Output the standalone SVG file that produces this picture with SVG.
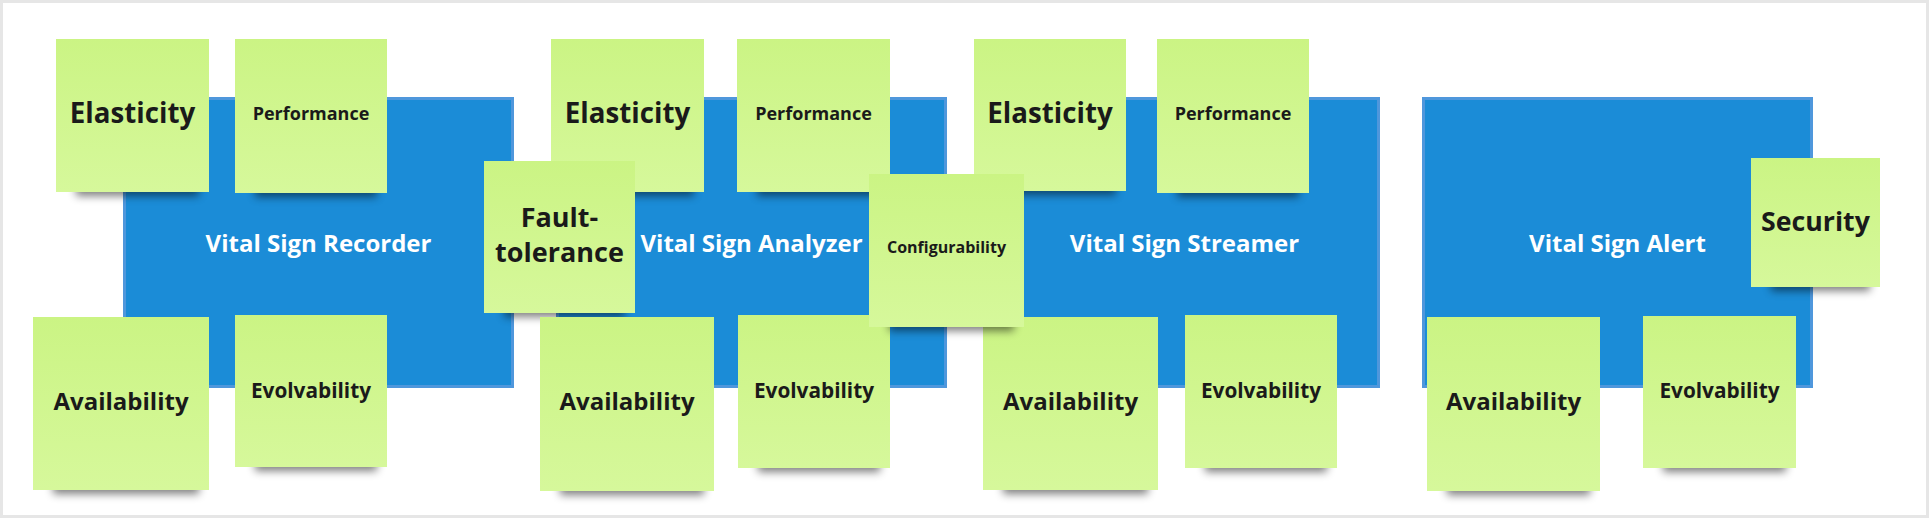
<svg xmlns="http://www.w3.org/2000/svg" width="1929" height="518" viewBox="0 0 1929 518">
<defs>
<linearGradient id="noteGrad" x1="0" y1="0" x2="0" y2="1">
<stop offset="0" stop-color="#cbf484"/>
<stop offset="1" stop-color="#d6f89b"/>
</linearGradient>
<filter id="shadowBlur" x="-20%" y="-100%" width="140%" height="300%">
<feGaussianBlur stdDeviation="4.5"/>
</filter>
<style>
.frame{fill:#e6e6e6}
.canvas{fill:#ffffff}
.comp{fill:#1b8cd7;stroke:#4f97dc;stroke-width:3}
.clabel{font-family:"Open Sans","Liberation Sans",sans-serif;font-weight:700;fill:#ffffff;text-anchor:middle}
.note{fill:url(#noteGrad)}
.shadow{fill:#000000;opacity:0.5;filter:url(#shadowBlur)}
.nt{font-family:"Open Sans","Liberation Sans",sans-serif;font-weight:700;fill:#1a1a1a;text-anchor:middle}
.big{font-size:27.7px}
.mid{font-size:24px}
.evo{font-size:20.8px}
.small{font-size:18px}
</style>
</defs>
<rect class="frame" x="0" y="0" width="1929" height="518"/>
<rect class="canvas" x="3" y="3" width="1923" height="512"/>

<g id="connectors"></g>

<g id="recorder"><rect class="comp" x="124.5" y="98.5" width="388" height="288"/><text class="clabel" x="318.5" y="252" font-size="24">Vital Sign Recorder</text></g>
<g id="analyzer"><rect class="comp" x="557.5" y="98.5" width="388" height="288"/><text class="clabel" x="751.5" y="252" font-size="24">Vital Sign Analyzer</text></g>
<g id="streamer"><rect class="comp" x="990.5" y="98.5" width="388" height="288"/><text class="clabel" x="1184.5" y="252" font-size="24">Vital Sign Streamer</text></g>
<g id="alert"><rect class="comp" x="1423.5" y="98.5" width="388" height="288"/><text class="clabel" x="1617.5" y="252" font-size="24">Vital Sign Alert</text></g>

<g id="rec-elasticity"><rect class="shadow" x="76" y="183" width="123" height="13"/><rect class="note" x="56" y="39" width="153" height="153"/><text class="nt big" x="132.5" y="123">Elasticity</text></g>
<g id="rec-performance"><rect class="shadow" x="255" y="184" width="122" height="13"/><rect class="note" x="235" y="39" width="152" height="154"/><text class="nt small" x="311" y="120">Performance</text></g>
<g id="rec-availability"><rect class="shadow" x="53" y="481" width="146" height="13"/><rect class="note" x="33" y="317" width="176" height="173"/><text class="nt mid" x="121" y="410">Availability</text></g>
<g id="rec-evolvability"><rect class="shadow" x="255" y="458" width="122" height="13"/><rect class="note" x="235" y="315" width="152" height="152"/><text class="nt evo" x="311" y="398">Evolvability</text></g>

<g id="ana-elasticity"><rect class="shadow" x="571" y="183" width="123" height="13"/><rect class="note" x="551" y="39" width="153" height="153"/><text class="nt big" x="627.5" y="123">Elasticity</text></g>
<g id="ana-performance"><rect class="shadow" x="757" y="183" width="123" height="13"/><rect class="note" x="737" y="39" width="153" height="153"/><text class="nt small" x="813.5" y="120">Performance</text></g>
<g id="ana-faulttolerance"><rect class="shadow" x="504" y="304" width="121" height="13"/><rect class="note" x="484" y="161" width="151" height="152"/><text class="nt" x="559.5" y="227" font-size="27">Fault-</text><text class="nt" x="559.5" y="262" font-size="27">tolerance</text></g>
<g id="ana-availability"><rect class="shadow" x="560" y="482" width="144" height="13"/><rect class="note" x="540" y="317" width="174" height="174"/><text class="nt mid" x="627" y="410">Availability</text></g>
<g id="ana-evolvability"><rect class="shadow" x="758" y="459" width="122" height="13"/><rect class="note" x="738" y="315" width="152" height="153"/><text class="nt evo" x="814" y="398">Evolvability</text></g>

<g id="str-elasticity"><rect class="shadow" x="994" y="182" width="122" height="13"/><rect class="note" x="974" y="39" width="152" height="152"/><text class="nt big" x="1050" y="123">Elasticity</text></g>
<g id="str-performance"><rect class="shadow" x="1177" y="184" width="122" height="13"/><rect class="note" x="1157" y="39" width="152" height="154"/><text class="nt small" x="1233" y="120">Performance</text></g>
<g id="str-availability"><rect class="shadow" x="1003" y="481" width="145" height="13"/><rect class="note" x="983" y="317" width="175" height="173"/><text class="nt mid" x="1070.5" y="410">Availability</text></g>
<g id="str-evolvability"><rect class="shadow" x="1205" y="459" width="122" height="13"/><rect class="note" x="1185" y="315" width="152" height="153"/><text class="nt evo" x="1261" y="398">Evolvability</text></g>

<g id="ana-configurability"><rect class="shadow" x="889" y="318" width="125" height="13"/><rect class="note" x="869" y="174" width="155" height="153"/><text class="nt" x="946.5" y="253" font-size="16">Configurability</text></g>

<g id="alt-security"><rect class="shadow" x="1771" y="278" width="99" height="13"/><rect class="note" x="1751" y="158" width="129" height="129"/><text class="nt" x="1815.5" y="231" font-size="26.7">Security</text></g>
<g id="alt-availability"><rect class="shadow" x="1447" y="482" width="143" height="13"/><rect class="note" x="1427" y="317" width="173" height="174"/><text class="nt mid" x="1513.5" y="410">Availability</text></g>
<g id="alt-evolvability"><rect class="shadow" x="1663" y="459" width="123" height="13"/><rect class="note" x="1643" y="316" width="153" height="152"/><text class="nt evo" x="1719.5" y="398">Evolvability</text></g>
</svg>
